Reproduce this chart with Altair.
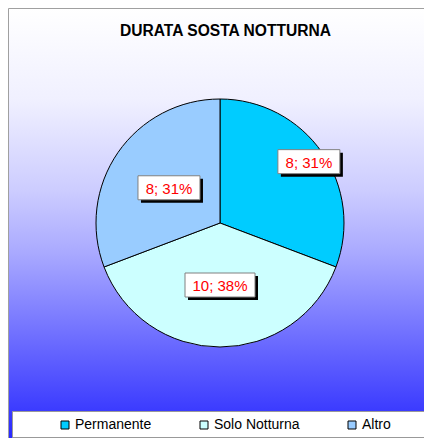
import altair as alt
import pandas as pd

TITLE = "DURATA SOSTA NOTTURNA"
categories = ["Permanente", "Solo Notturna", "Altro"]
values = [8, 10, 8]
colors = ["#00CCFF", "#CCFFFF", "#99CCFF"]

df = pd.DataFrame({"cat": categories, "value": values, "idx": list(range(len(categories)))})
one = pd.DataFrame({"a": [0]})

W, H = 416, 430
CX, CY, R = 212, 215, 124
FONT = "Liberation Sans"

grad = alt.LinearGradient(
    gradient="linear",
    stops=[
        alt.GradientStop(color="#FFFFFF", offset=0),
        alt.GradientStop(color="#F0F0FF", offset=0.21),
        alt.GradientStop(color="#CCCCFF", offset=0.42),
        alt.GradientStop(color="#AAAAFF", offset=0.56),
        alt.GradientStop(color="#6464FF", offset=0.79),
        alt.GradientStop(color="#2525FF", offset=1),
    ],
    x1=0, x2=0, y1=0, y2=1,
)

bg = alt.Chart(one).mark_rect(fill=grad, stroke="#A0A0A0", strokeWidth=1).encode(
    x=alt.value(0.5), x2=alt.value(W + 5), y=alt.value(0.5), y2=alt.value(H + 5)
)

title = alt.Chart(one).mark_text(
    text=TITLE, fontSize=15.6, fontWeight="bold", font=FONT, align="center",
    baseline="alphabetic", color="black"
).encode(x=alt.value(217.5), y=alt.value(28))

color = alt.Color(
    "cat:N",
    scale=alt.Scale(domain=categories, range=colors),
    legend=alt.Legend(
        orient="none", legendX=50, legendY=410, direction="horizontal", title=None,
        symbolType="square", symbolSize=64, symbolStrokeColor="black",
        symbolStrokeWidth=1, labelFont=FONT, labelFontSize=14, labelColor="black",
        columnPadding=45, labelOffset=3, padding=0, symbolOpacity=1,
    ),
)

arc = alt.Chart(df).mark_arc(radius=R, stroke="black", strokeWidth=1).encode(
    theta=alt.Theta("value:Q", stack=True),
    order=alt.Order("idx:Q"),
    color=color,
    x=alt.value(CX),
    y=alt.value(CY),
)

lab = alt.Chart(df).transform_joinaggregate(total="sum(value)").transform_window(
    cum="sum(value)", sort=[alt.SortField("idx")], frame=[None, 0]
).transform_calculate(
    mid="(datum.cum - datum.value/2)/datum.total*2*PI",
    r="datum.cat === 'Permanente' ? 108 : 62",
).transform_calculate(
    px=f"{CX} + datum.r*sin(datum.mid)",
    py=f"{CY} - datum.r*cos(datum.mid)",
    label="datum.value + '; ' + round(datum.value/datum.total*100) + '%'",
).transform_calculate(
    bw="length(datum.label)*8 + 14",
).transform_calculate(
    bx1="datum.px - datum.bw/2", bx2="datum.px + datum.bw/2",
    by1="datum.py - 12", by2="datum.py + 12",
)

shadow = lab.mark_rect(color="black", xOffset=3, x2Offset=3, yOffset=3, y2Offset=3).encode(
    x=alt.X("bx1:Q", scale=None, axis=None), x2="bx2:Q",
    y=alt.Y("by1:Q", scale=None, axis=None), y2="by2:Q",
)
box = lab.mark_rect(fill="white", stroke="#808080", strokeWidth=1).encode(
    x=alt.X("bx1:Q", scale=None, axis=None), x2="bx2:Q",
    y=alt.Y("by1:Q", scale=None, axis=None), y2="by2:Q",
)
txt = lab.mark_text(color="#FF0000", fontSize=15, font=FONT, align="center", baseline="middle", dy=1).encode(
    x=alt.X("px:Q", scale=None, axis=None),
    y=alt.Y("py:Q", scale=None, axis=None),
    text="label:N",
)

legbox = alt.Chart(one).mark_rect(fill="white", stroke="#999999", strokeWidth=1).encode(
    x=alt.value(4.5), x2=alt.value(W + 5), y=alt.value(403.5), y2=alt.value(429.5)
)

chart = alt.layer(bg, title, legbox, arc, shadow, box, txt).properties(
    width=W, height=H, autosize=alt.AutoSizeParams(type="none"), padding=0,
).configure_view(stroke=None)

chart.save("out.html", embed_options={"renderer": "svg", "actions": False})
